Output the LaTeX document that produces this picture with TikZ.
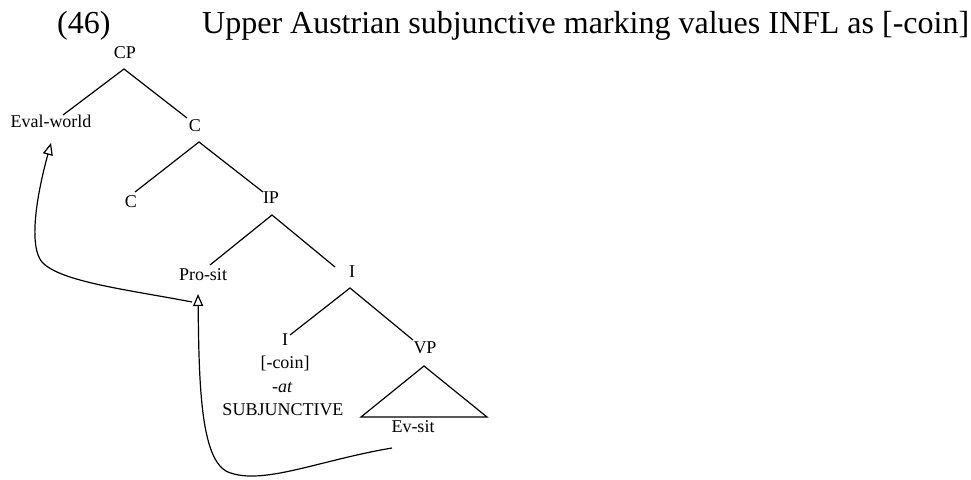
\documentclass[tikz,border=0pt]{standalone}
\usepackage{fontspec}
\setmainfont{Liberation Serif}
\usetikzlibrary{arrows.meta}
\begin{document}
\begin{tikzpicture}[x=1pt,y=-1pt,
  lbl/.style={anchor=base,inner sep=0pt,font=\fontsize{18}{20}\selectfont},
  ttl/.style={anchor=base west,inner sep=0pt,font=\fontsize{32}{36}\selectfont},
  br/.style={line width=1.2pt},
  mv/.style={line width=1.2pt,-{Triangle[open,length=12pt,width=10pt]}}]
\useasboundingbox (0,0) rectangle (971,479);
\node[ttl] (num) at (57,33.5) {(46)};
\node[ttl] (title) at (202,33.5) {Upper Austrian subjunctive marking values INFL as [-coin]};
% labels
\node[lbl] (cp) at (125,58) {CP};
\node[lbl] (ew) at (51,127) {Eval-world};
\node[lbl] (c1) at (195,131) {C};
\node[lbl] (c2) at (131,207) {C};
\node[lbl] (ip) at (271,203) {IP};
\node[lbl] (pro) at (203,280) {Pro-sit};
\node[lbl] (i1) at (352,277) {I};
\node[lbl] (i2) at (285,345) {I};
\node[lbl] (vp) at (425,353) {VP};
\node[lbl] (coin) at (285,368) {[-coin]};
\node[lbl] (at) at (282,392) {\itshape -at};
\node[lbl] (subj) at (283,415) {SUBJUNCTIVE};
\node[lbl] (ev) at (413,432) {Ev-sit};
% branch ends
\coordinate (cpB) at (124,69);
\coordinate (ewT) at (63,115);
\coordinate (c1T) at (187,118);
\coordinate (c1B) at (199,142);
\coordinate (c2T) at (135,192);
\coordinate (ipT) at (263,192);
\coordinate (ipB) at (272,215);
\coordinate (proT) at (210,265);
\coordinate (i1T) at (335,267);
\coordinate (i1B) at (350,288);
\coordinate (i2T) at (290,335);
\coordinate (vpT) at (413,340);
\coordinate (vpB) at (424,366);
\coordinate (triL) at (361,417);
\coordinate (triR) at (487,417);
\draw[br] (ewT) -- (cpB) -- (c1T);
\draw[br] (c2T) -- (c1B) -- (ipT);
\draw[br] (proT) -- (ipB) -- (i1T);
\draw[br] (i2T) -- (i1B) -- (vpT);
\draw[br] (vpB) -- (triL) -- (triR) -- cycle;
% movement arrows
\coordinate (m1s) at (392,448);
\coordinate (m1e) at (198,294);
\draw[mv] (m1s) .. controls (320,460) and (262,486) .. (228,472) .. controls (200,460) and (199,380) .. (m1e);
\coordinate (m2s) at (192,302);
\coordinate (m2e) at (51,143);
\draw[mv] (m2s) .. controls (130,290) and (60,282) .. (42,262) .. controls (30,248) and (34,205) .. (m2e);
\end{tikzpicture}
\end{document}
